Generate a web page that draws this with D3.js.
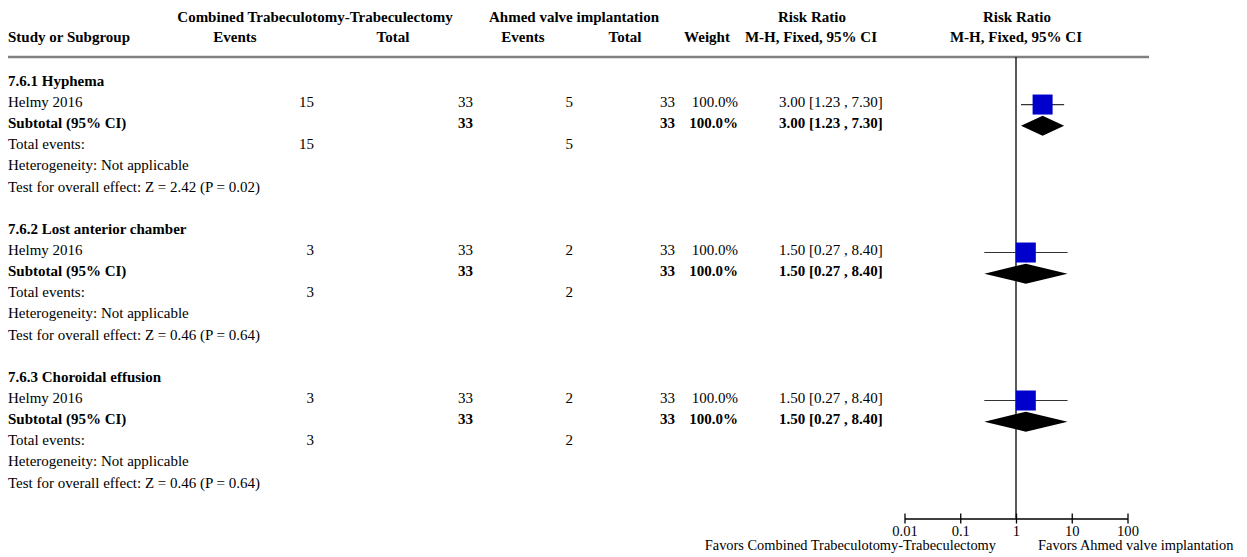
<!DOCTYPE html>
<html>
<head>
<meta charset="utf-8">
<script src="https://cdn.jsdelivr.net/npm/d3@7"></script>
<style>
  html, body { margin: 0; padding: 0; background: #fff; }
  svg { display: block; font-family: "Liberation Serif", "Times New Roman", serif; font-size: 15px; fill: #000; }
  .b { font-weight: bold; }
  .favors { font-size: 14.4px; }
</style>
</head>
<body>
<svg id="chart" width="1247" height="557"></svg>
<script>
// Forest plot: Combined Trabeculotomy-Trabeculectomy vs Ahmed valve implantation
const groupTitles = ["7.6.1 Hyphema", "7.6.2 Lost anterior chamber", "7.6.3 Choroidal effusion"];
const studyNames  = ["Helmy 2016", "Helmy 2016", "Helmy 2016"];
const expEvents   = [15, 3, 3];
const expTotal    = [33, 33, 33];
const ctlEvents   = [5, 2, 2];
const ctlTotal    = [33, 33, 33];
const weights     = [100, 100, 100];
const riskRatio   = [3.00, 1.50, 1.50];
const ciLower     = [1.23, 0.27, 0.27];
const ciUpper     = [7.30, 8.40, 8.40];
const zValues     = ["2.42", "0.46", "0.46"];
const pValues     = ["0.02", "0.64", "0.64"];
const axisTicks   = [0.01, 0.1, 1, 10, 100];
const favorsLeft  = "Favors Combined Trabeculotomy-Trabeculectomy";
const favorsRight = "Favors Ahmed valve implantation";

const svg = d3.select("#chart");

// column anchors
const col = {
  label: 8,
  expEv: 314, expTot: 473,
  ctlEv: 573, ctlTot: 675,
  weight: 738, ci: 779
};

const x = d3.scaleLog().domain([0.01, 100]).range([904.5, 1127.5]);
const boxSize = d3.scaleSqrt().domain([0, 100]).range([0, 20]);

const rowStep = 21.14;
const firstRow = 85.9;
const rowY = k => firstRow + rowStep * k;
const axisY = 518.5;
const ruleY = 57;

function txt(xp, yp, s, anchor, bold) {
  return svg.append("text")
    .attr("x", xp).attr("y", yp)
    .attr("text-anchor", anchor || "start")
    .attr("class", bold ? "b" : null)
    .text(s);
}

// header
txt(315, 22, "Combined Trabeculotomy-Trabeculectomy", "middle", true);
txt(574, 22, "Ahmed valve implantation", "middle", true);
txt(812, 22, "Risk Ratio", "middle", true);
txt(1017, 22, "Risk Ratio", "middle", true);
txt(col.label, 42, "Study or Subgroup", "start", true);
txt(235, 42, "Events", "middle", true);
txt(393, 42, "Total", "middle", true);
txt(523, 42, "Events", "middle", true);
txt(625, 42, "Total", "middle", true);
txt(707, 42, "Weight", "middle", true);
txt(811, 42, "M-H, Fixed, 95% CI", "middle", true);
txt(1016, 42, "M-H, Fixed, 95% CI", "middle", true);

svg.append("line")
  .attr("x1", 8).attr("x2", 1149)
  .attr("y1", ruleY).attr("y2", ruleY)
  .attr("stroke", "#808080").attr("stroke-width", 2.6);

// line of no effect
svg.append("line")
  .attr("x1", x(1)).attr("x2", x(1))
  .attr("y1", ruleY).attr("y2", axisY)
  .attr("stroke", "#000").attr("stroke-width", 1.3);

const fmt2 = d3.format(".2f");
const ciText = i => `${fmt2(riskRatio[i])} [${fmt2(ciLower[i])} , ${fmt2(ciUpper[i])}]`;
const wText = i => d3.format(".1f")(weights[i]) + "%";

groupTitles.forEach((title, i) => {
  const k0 = i * 7;
  const yT = rowY(k0), yS = rowY(k0 + 1), ySub = rowY(k0 + 2),
        yTot = rowY(k0 + 3), yHet = rowY(k0 + 4), yTest = rowY(k0 + 5);

  txt(col.label, yT, title, "start", true);

  // study row
  txt(col.label, yS, studyNames[i]);
  txt(col.expEv, yS, expEvents[i], "end");
  txt(col.expTot, yS, expTotal[i], "end");
  txt(col.ctlEv, yS, ctlEvents[i], "end");
  txt(col.ctlTot, yS, ctlTotal[i], "end");
  txt(col.weight, yS, wText(i), "end");
  txt(col.ci, yS, ciText(i));

  // subtotal row
  txt(col.label, ySub, "Subtotal (95% CI)", "start", true);
  txt(col.expTot, ySub, expTotal[i], "end", true);
  txt(col.ctlTot, ySub, ctlTotal[i], "end", true);
  txt(col.weight, ySub, wText(i), "end", true);
  txt(col.ci, ySub, ciText(i), "start", true);

  txt(col.label, yTot, "Total events:");
  txt(col.expEv, yTot, expEvents[i], "end");
  txt(col.ctlEv, yTot, ctlEvents[i], "end");
  txt(col.label, yHet, "Heterogeneity: Not applicable");
  txt(col.label, yTest, `Test for overall effect: Z = ${zValues[i]} (P = ${pValues[i]})`);

  // study marker: CI whisker and weighted box
  const cy = yS - 2.5;
  svg.append("line")
    .attr("x1", x(ciLower[i])).attr("x2", x(ciUpper[i]))
    .attr("y1", cy).attr("y2", cy)
    .attr("stroke", "#333").attr("stroke-width", 1.2);
  const s = boxSize(weights[i]);
  svg.append("rect")
    .attr("x", x(riskRatio[i]) - s / 2).attr("y", cy - s / 2)
    .attr("width", s).attr("height", s)
    .attr("fill", "#0000cc");

  // pooled diamond
  const dy = ySub - 2.5;
  const pts = [[x(ciLower[i]), dy], [x(riskRatio[i]), dy - 10],
               [x(ciUpper[i]), dy], [x(riskRatio[i]), dy + 10]];
  svg.append("polygon")
    .attr("points", pts.map(p => p.join(",")).join(" "))
    .attr("fill", "#000");
});

// log axis with ticks crossing the line
const axis = d3.axisBottom(x).tickValues(axisTicks).tickSizeOuter(0).tickSizeInner(5)
  .tickFormat(d => String(d));
const gAxis = svg.append("g").attr("transform", `translate(0,${axisY})`).call(axis);
gAxis.select(".domain").attr("stroke", "#000").attr("stroke-width", 1.3);
gAxis.selectAll(".tick line").attr("y1", -5).attr("y2", 5).attr("stroke", "#000").attr("stroke-width", 1.3);
gAxis.selectAll(".tick text")
  .attr("y", 17).attr("dy", 0)
  .attr("fill", "#000")
  .style("font-family", "'Liberation Serif', 'Times New Roman', serif")
  .style("font-size", "14.6px");

txt(996, 550, favorsLeft, "end").attr("class", "favors");
txt(1038, 550, favorsRight, "start").attr("class", "favors");
</script>
</body>
</html>
